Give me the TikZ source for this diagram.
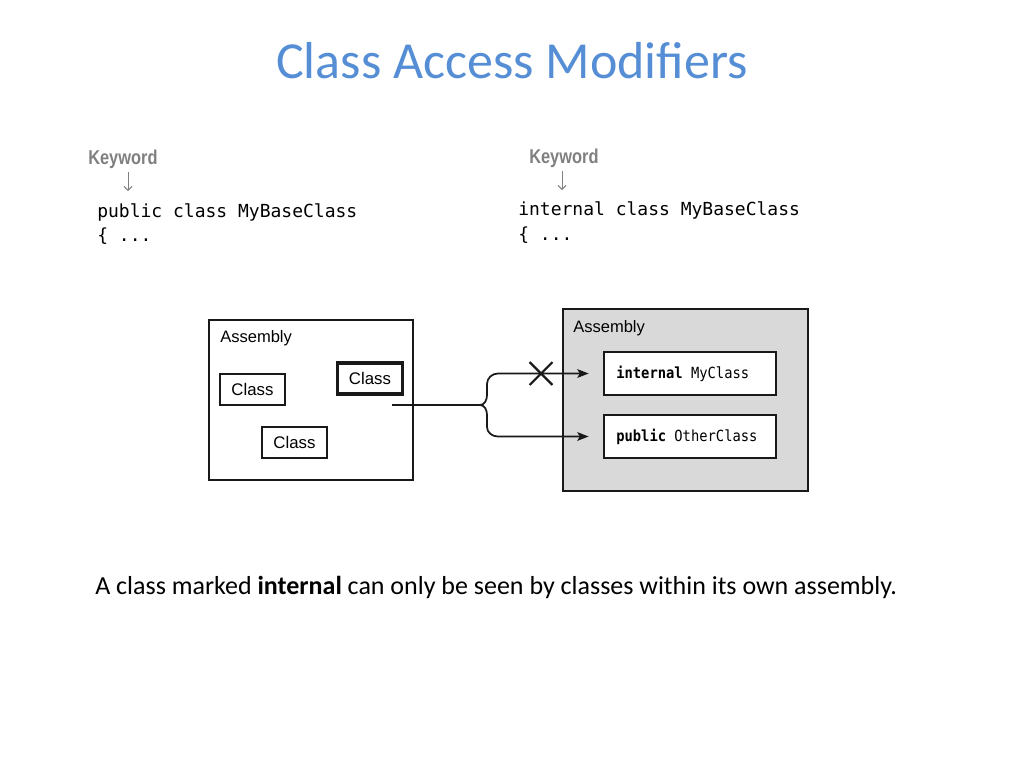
\documentclass[tikz,border=0pt]{standalone}
\usepackage{fontspec}
\setmainfont{Carlito}
\newfontfamily\codefont{DejaVu Sans Mono}
\newfontfamily\boxcode[FakeStretch=0.9]{DejaVu Sans Mono}
\newfontfamily\kwfont[FakeStretch=0.82]{Liberation Sans}
\newfontfamily\helv{Liberation Sans}
\usetikzlibrary{arrows.meta,fit,shapes.misc}
\definecolor{titleblue}{RGB}{85,142,213}
\definecolor{kwgray}{RGB}{128,128,128}
\definecolor{asmgray}{RGB}{217,217,217}
\definecolor{edge}{RGB}{25,25,25}
\tikzset{
  txt/.style={inner sep=0pt, anchor=base west},
  kw/.style={txt, text=kwgray, font=\kwfont\bfseries\fontsize{15pt}{18pt}\selectfont},
  code/.style={txt, font=\codefont\fontsize{13.5pt}{16pt}\selectfont},
  kwarrow/.style={draw=kwgray, line width=0.7pt, -{Straight Barb[length=3pt,width=6pt]}},
  asmbox/.style={draw=edge, line width=1.5pt, inner sep=0pt},
  asmlabel/.style={txt, font=\helv\fontsize{12.4pt}{14pt}\selectfont},
  classbox/.style={draw=edge, line width=1.5pt, inner sep=0pt, minimum width=48.75pt, minimum height=23.25pt, font=\helv\fontsize{12.6pt}{14pt}\selectfont},
  innerbox/.style={draw=edge, fill=white, line width=2pt, inner sep=0pt, minimum width=129pt, minimum height=32.25pt},
  boxtext/.style={txt, anchor=west, font=\boxcode\fontsize{11.5pt}{13pt}\selectfont},
  conn/.style={draw=edge, line width=1.3pt},
  arr/.style={conn, -{Stealth[length=8.5pt,width=6.5pt,inset=1.8pt]}, shorten >=10.5pt},
}
\begin{document}
\begin{tikzpicture}[x=0.75pt, y=-0.75pt]
\useasboundingbox[fill=white] (0,0) rectangle (1033,769);

% title
\node[inner sep=0pt, anchor=base, text=titleblue, font=\fontsize{39pt}{45pt}\selectfont] (title) at (512,78) {Class Access Modifiers};

% code samples
\node[kw] (kw1) at (88,164) {Keyword};
\node[code] (code1) at (97,217) {public class MyBaseClass};
\node[code] (code1b) at (97,241) {\{ ...};
\coordinate (a1s) at (128,172);
\coordinate (a1e) at (128,191);
\draw[kwarrow] (a1s) -- (a1e);

\node[kw] (kw2) at (529,163) {Keyword};
\node[code] (code2) at (518,215) {internal class MyBaseClass};
\node[code] (code2b) at (518,240) {\{ ...};
\coordinate (a2s) at (562,171);
\coordinate (a2e) at (562,190);
\draw[kwarrow] (a2s) -- (a2e);

% left assembly
\coordinate (l1) at (209,320);
\coordinate (l2) at (413,480);
\node[asmbox, fit=(l1)(l2)] (asm1) {};
\node[asmlabel] (asm1lbl) at (220,342) {Assembly};
\node[classbox] (c1) at (252.5,389.5) {Class};
\node[classbox, line width=2.3pt] (c2) at (370,378.5) {Class};
\node[classbox] (c3) at (294.5,442) {Class};

% right assembly
\coordinate (r1) at (563,309);
\coordinate (r2) at (808,491);
\node[asmbox, fill=asmgray, line width=2.1pt, fit=(r1)(r2)] (asm2) {};
\node[asmlabel] (asm2lbl) at (573,332) {Assembly};
\node[innerbox] (in1) at (690,373.5) {};
\node[boxtext] (in1t) at (616,373.5) {\bfseries internal\mdseries\ MyClass};
\node[innerbox] (in2) at (690,436.5) {};
\node[boxtext] (in2t) at (616,436.5) {\bfseries public\mdseries\ OtherClass};

% connectors
\coordinate (src) at (392,405);
\coordinate (br) at (480,405);
\draw[conn] (src) -- (br);
\draw[arr] (br) to[out=0,in=-90] (487,395) -- (487,384) to[out=90,in=180] (498,373.5) -- (in1.west);
\draw[arr] (br) to[out=0,in=90] (487,415) -- (487,427) to[out=-90,in=180] (498,436.5) -- (in2.west);
\node[cross out, draw=edge, line width=1.6pt, minimum size=15.5pt, inner sep=0pt] (xmark) at (541,373.5) {};

% caption
\node[txt, font=\fontsize{19.5pt}{23pt}\selectfont] (cap) at (95,594) {A class marked \textbf{internal} can only be seen by classes within its own assembly.};
\end{tikzpicture}
\end{document}
